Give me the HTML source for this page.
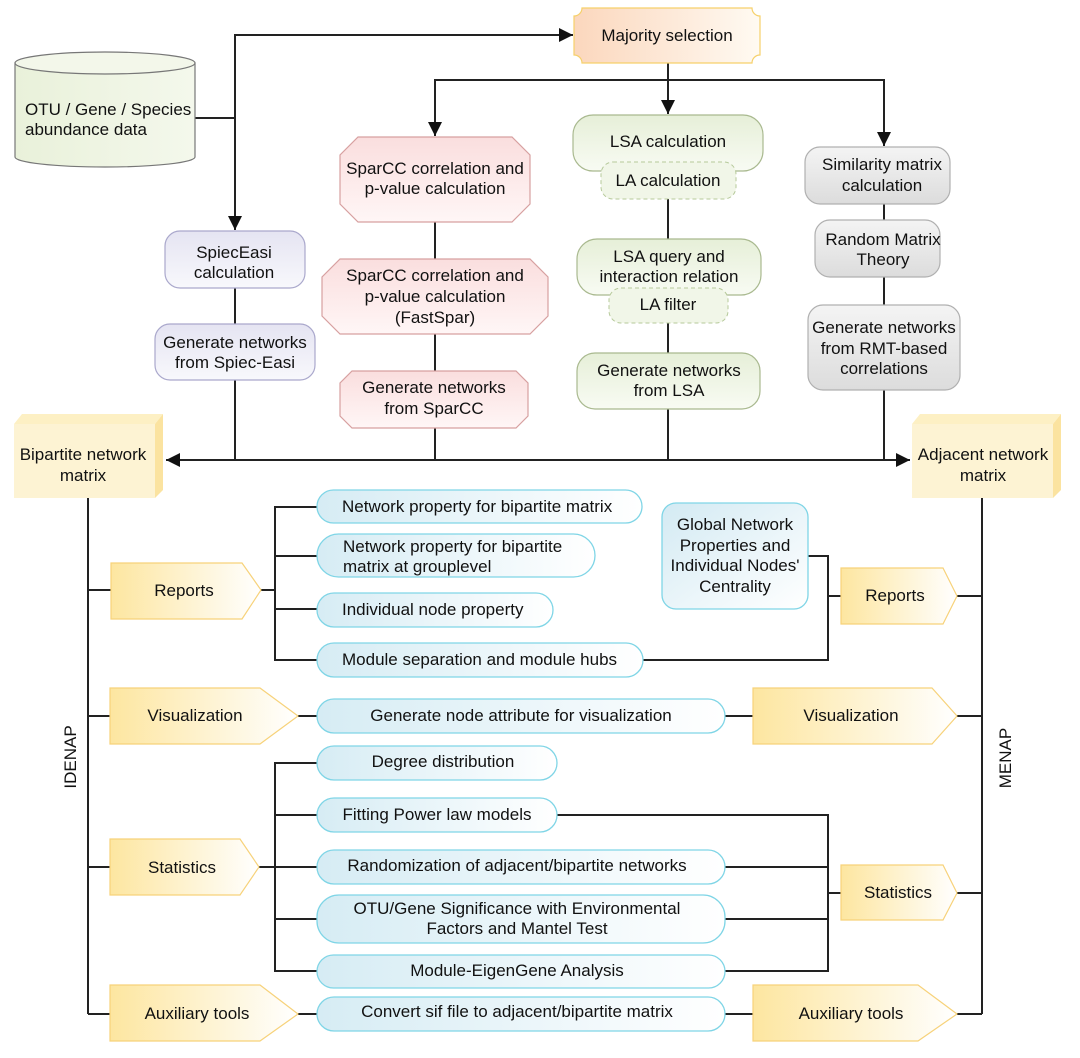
<!DOCTYPE html>
<html><head><meta charset="utf-8"><style>
html,body{margin:0;padding:0;background:#fff}
svg text{font-family:"Liberation Sans",Arial,sans-serif;font-size:17px;fill:#111}
</style></head><body>
<svg width="1080" height="1053" viewBox="0 0 1080 1053" xmlns="http://www.w3.org/2000/svg">
<defs>
<linearGradient id="yel" x1="0" x2="1" y1="0" y2="0"><stop offset="0" stop-color="#fde6a0"/><stop offset="1" stop-color="#fff"/></linearGradient>
<linearGradient id="blu" x1="0" x2="1" y1="0" y2="0"><stop offset="0" stop-color="#d6ecf4"/><stop offset="1" stop-color="#fff"/></linearGradient>
<linearGradient id="blu2" x1="0" x2="1" y1="0" y2="1"><stop offset="0" stop-color="#d3eaf3"/><stop offset="1" stop-color="#fff"/></linearGradient>
<linearGradient id="org" x1="0" x2="1" y1="0" y2="0"><stop offset="0" stop-color="#fbd7bd"/><stop offset="1" stop-color="#fffaf2"/></linearGradient>
<linearGradient id="red" x1="0" x2="0" y1="0" y2="1"><stop offset="0" stop-color="#fadede"/><stop offset="1" stop-color="#fff6f6"/></linearGradient>
<linearGradient id="lil" x1="0" x2="0" y1="0" y2="1"><stop offset="0" stop-color="#e5e4f2"/><stop offset="1" stop-color="#f8f8fc"/></linearGradient>
<linearGradient id="grn" x1="0" x2="0" y1="0" y2="1"><stop offset="0" stop-color="#e6efd8"/><stop offset="1" stop-color="#f8fbf3"/></linearGradient>
<linearGradient id="gry" x1="0" x2="0" y1="0" y2="1"><stop offset="0" stop-color="#f4f4f4"/><stop offset="1" stop-color="#dcdcdc"/></linearGradient>
<linearGradient id="cyl" x1="0" x2="1" y1="0" y2="0"><stop offset="0" stop-color="#e9f1da"/><stop offset="1" stop-color="#f4f8ec"/></linearGradient>
<marker id="ar" viewBox="0 0 10 10" refX="10" refY="5" markerWidth="14" markerHeight="14" markerUnits="userSpaceOnUse" orient="auto"><path d="M0,0 L10,5 L0,10 z" fill="#111"/></marker>
</defs>
<g stroke="#222" stroke-width="2" fill="none">
<polyline points="195,118 235,118"/>
<polyline points="235,118 235,35 573,35" marker-end="url(#ar)"/>
<polyline points="235,118 235,230" marker-end="url(#ar)"/>
<line x1="668" y1="63" x2="668" y2="80"/>
<polyline points="668,80 435,80 435,136" marker-end="url(#ar)"/>
<polyline points="668,80 884,80 884,146" marker-end="url(#ar)"/>
<line x1="668" y1="80" x2="668" y2="114" marker-end="url(#ar)"/>
<line x1="235" y1="288" x2="235" y2="460"/>
<line x1="435" y1="222" x2="435" y2="460"/>
<line x1="668" y1="199" x2="668" y2="460"/>
<line x1="884" y1="204" x2="884" y2="460"/>
<line x1="500" y1="460" x2="166" y2="460" marker-end="url(#ar)"/>
<line x1="500" y1="460" x2="910" y2="460" marker-end="url(#ar)"/>
<line x1="88" y1="498" x2="88" y2="1014"/>
<line x1="88" y1="590" x2="111" y2="590"/>
<line x1="88" y1="716" x2="110" y2="716"/>
<line x1="88" y1="867" x2="110" y2="867"/>
<line x1="88" y1="1014" x2="110" y2="1014"/>
<line x1="261" y1="590" x2="275" y2="590"/>
<polyline points="317,507 275,507 275,660 317,660"/>
<line x1="275" y1="556" x2="317" y2="556"/>
<line x1="275" y1="609" x2="317" y2="609"/>
<line x1="298" y1="716" x2="317" y2="716"/>
<line x1="259" y1="867" x2="317" y2="867"/>
<polyline points="317,763 275,763 275,971 317,971"/>
<line x1="275" y1="815" x2="317" y2="815"/>
<line x1="275" y1="919" x2="317" y2="919"/>
<line x1="298" y1="1014" x2="317" y2="1014"/>
<line x1="982" y1="498" x2="982" y2="1014"/>
<line x1="957" y1="596" x2="982" y2="596"/>
<line x1="957" y1="716" x2="982" y2="716"/>
<line x1="957" y1="893" x2="982" y2="893"/>
<line x1="957" y1="1014" x2="982" y2="1014"/>
<polyline points="808,556 828,556 828,660 643,660"/>
<line x1="828" y1="596" x2="841" y2="596"/>
<line x1="725" y1="716" x2="753" y2="716"/>
<polyline points="557,815 828,815 828,971 725,971"/>
<line x1="725" y1="867" x2="828" y2="867"/>
<line x1="725" y1="919" x2="828" y2="919"/>
<line x1="828" y1="893" x2="841" y2="893"/>
<line x1="725" y1="1014" x2="753" y2="1014"/>
</g>
<path d="M15,63 L15,157 A90,10 0 0 0 195,157 L195,63" fill="url(#cyl)" stroke="#777" stroke-width="1.2"/>
<ellipse cx="105" cy="63" rx="90" ry="11" fill="#f3f7ea" stroke="#777" stroke-width="1.2"/>
<text x="25" y="115">OTU / Gene / Species</text>
<text x="25" y="135">abundance data</text>
<path d="M582,8 L752,8 A8,8 0 0 0 760,16 L760,55 A8,8 0 0 0 752,63 L582,63 A8,8 0 0 0 574,55 L574,16 A8,8 0 0 0 582,8 z" fill="url(#org)" stroke="#f6d06a" stroke-width="1.2"/>
<text x="667" y="41" text-anchor="middle">Majority selection</text>
<polygon points="358,137 512,137 530,155 530,204 512,222 358,222 340,204 340,155" fill="url(#red)" stroke="#d7a0a0" stroke-width="1.2"/>
<text x="435" y="174" text-anchor="middle">SparCC correlation and</text>
<text x="435" y="194" text-anchor="middle">p-value calculation</text>
<polygon points="340,259 530,259 548,277 548,316 530,334 340,334 322,316 322,277" fill="url(#red)" stroke="#d7a0a0" stroke-width="1.2"/>
<text x="435" y="281" text-anchor="middle">SparCC correlation and</text>
<text x="435" y="302" text-anchor="middle">p-value calculation</text>
<text x="435" y="323" text-anchor="middle">(FastSpar)</text>
<polygon points="352,371 516,371 528,383 528,416 516,428 352,428 340,416 340,383" fill="url(#red)" stroke="#d7a0a0" stroke-width="1.2"/>
<text x="434" y="393" text-anchor="middle">Generate networks</text>
<text x="434" y="414" text-anchor="middle">from SparCC</text>
<rect x="165" y="231" width="140" height="57" rx="15" fill="url(#lil)" stroke="#aaa8cc" stroke-width="1.2"/>
<text x="234" y="258" text-anchor="middle">SpiecEasi</text>
<text x="234" y="278" text-anchor="middle">calculation</text>
<rect x="155" y="324" width="160" height="56" rx="15" fill="url(#lil)" stroke="#aaa8cc" stroke-width="1.2"/>
<text x="235" y="348" text-anchor="middle">Generate networks</text>
<text x="235" y="368" text-anchor="middle">from Spiec-Easi</text>
<rect x="573" y="115" width="190" height="56" rx="20" fill="url(#grn)" stroke="#a9b98f" stroke-width="1.2"/>
<text x="668" y="147" text-anchor="middle">LSA calculation</text>
<rect x="601" y="162" width="135" height="37" rx="12" fill="#f1f6e8" stroke="#b6c99a" stroke-width="1" stroke-dasharray="4,3"/>
<text x="668" y="186" text-anchor="middle">LA calculation</text>
<rect x="577" y="239" width="184" height="56" rx="20" fill="url(#grn)" stroke="#a9b98f" stroke-width="1.2"/>
<text x="669" y="262" text-anchor="middle">LSA query and</text>
<text x="669" y="282" text-anchor="middle">interaction relation</text>
<rect x="609" y="288" width="119" height="35" rx="12" fill="#f1f6e8" stroke="#b6c99a" stroke-width="1" stroke-dasharray="4,3"/>
<text x="668" y="310" text-anchor="middle">LA filter</text>
<rect x="577" y="353" width="183" height="56" rx="18" fill="url(#grn)" stroke="#a9b98f" stroke-width="1.2"/>
<text x="669" y="376" text-anchor="middle">Generate networks</text>
<text x="669" y="396" text-anchor="middle">from LSA</text>
<rect x="805" y="147" width="145" height="57" rx="15" fill="url(#gry)" stroke="#b0b0b0" stroke-width="1.2"/>
<text x="882" y="170" text-anchor="middle">Similarity matrix</text>
<text x="882" y="191" text-anchor="middle">calculation</text>
<rect x="815" y="220" width="125" height="57" rx="15" fill="url(#gry)" stroke="#b0b0b0" stroke-width="1.2"/>
<text x="883" y="245" text-anchor="middle">Random Matrix</text>
<text x="883" y="265" text-anchor="middle">Theory</text>
<rect x="808" y="305" width="152" height="85" rx="15" fill="url(#gry)" stroke="#b0b0b0" stroke-width="1.2"/>
<text x="884" y="333" text-anchor="middle">Generate networks</text>
<text x="884" y="354" text-anchor="middle">from RMT-based</text>
<text x="884" y="374" text-anchor="middle">correlations</text>
<polygon points="14,424 155,424 163,414 22,414" fill="#fdf0c4"/>
<polygon points="155,424 163,414 163,490 155,498" fill="#fbe3a0"/>
<rect x="14" y="424" width="141" height="74" fill="#fdf3d3"/>
<text x="83" y="460" text-anchor="middle">Bipartite network</text>
<text x="83" y="481" text-anchor="middle">matrix</text>
<polygon points="912,424 1053,424 1061,414 920,414" fill="#fdf0c4"/>
<polygon points="1053,424 1061,414 1061,490 1053,498" fill="#fbe3a0"/>
<rect x="912" y="424" width="141" height="74" fill="#fdf3d3"/>
<text x="983" y="460" text-anchor="middle">Adjacent network</text>
<text x="983" y="481" text-anchor="middle">matrix</text>
<g fill="url(#yel)" stroke="#f7d27a" stroke-width="1.2">
<polygon points="111,563 242,563 261,590 242,619 111,619"/>
<polygon points="110,688 260,688 298,716 260,744 110,744"/>
<polygon points="110,839 240,839 259,867 240,895 110,895"/>
<polygon points="110,985 260,985 298,1014 260,1041 110,1041"/>
<polygon points="841,568 943,568 957,596 943,624 841,624"/>
<polygon points="753,688 932,688 957,716 932,744 753,744"/>
<polygon points="841,865 943,865 957,893 943,920 841,920"/>
<polygon points="753,985 918,985 957,1014 918,1041 753,1041"/>
</g>
<text x="184" y="596" text-anchor="middle">Reports</text>
<text x="195" y="721" text-anchor="middle">Visualization</text>
<text x="182" y="873" text-anchor="middle">Statistics</text>
<text x="197" y="1019" text-anchor="middle">Auxiliary tools</text>
<text x="895" y="601" text-anchor="middle">Reports</text>
<text x="851" y="721" text-anchor="middle">Visualization</text>
<text x="898" y="898" text-anchor="middle">Statistics</text>
<text x="851" y="1019" text-anchor="middle">Auxiliary tools</text>
<g fill="url(#blu)" stroke="#7fd5e6" stroke-width="1.3">
<rect x="317" y="490" width="325" height="33" rx="16.5"/>
<rect x="317" y="534" width="278" height="43" rx="21.5"/>
<rect x="317" y="593" width="236" height="34" rx="17"/>
<rect x="317" y="643" width="326" height="34" rx="17"/>
<rect x="317" y="699" width="408" height="34" rx="17"/>
<rect x="317" y="746" width="240" height="34" rx="17"/>
<rect x="317" y="798" width="240" height="34" rx="17"/>
<rect x="317" y="850" width="408" height="34" rx="17"/>
<rect x="317" y="895" width="408" height="48" rx="22"/>
<rect x="317" y="955" width="408" height="33" rx="16.5"/>
<rect x="317" y="997" width="408" height="34" rx="17"/>
</g>
<rect x="662" y="503" width="146" height="106" rx="14" fill="url(#blu2)" stroke="#7fd5e6" stroke-width="1.3"/>
<text x="342" y="512">Network property for bipartite matrix</text>
<text x="343" y="552">Network property for bipartite</text>
<text x="343" y="572">matrix at grouplevel</text>
<text x="342" y="615">Individual node property</text>
<text x="342" y="665">Module separation and module hubs</text>
<text x="521" y="721" text-anchor="middle">Generate node attribute for visualization</text>
<text x="443" y="767" text-anchor="middle">Degree distribution</text>
<text x="437" y="820" text-anchor="middle">Fitting Power law models</text>
<text x="517" y="871" text-anchor="middle">Randomization of adjacent/bipartite networks</text>
<text x="517" y="914" text-anchor="middle">OTU/Gene Significance with Environmental</text>
<text x="517" y="934" text-anchor="middle">Factors and Mantel Test</text>
<text x="517" y="976" text-anchor="middle">Module-EigenGene Analysis</text>
<text x="517" y="1017" text-anchor="middle">Convert sif file to adjacent/bipartite matrix</text>
<text x="735" y="530" text-anchor="middle">Global Network</text>
<text x="735" y="551" text-anchor="middle">Properties and</text>
<text x="735" y="571" text-anchor="middle">Individual Nodes'</text>
<text x="735" y="592" text-anchor="middle">Centrality</text>
<text transform="translate(76,757) rotate(-90)" text-anchor="middle">IDENAP</text>
<text transform="translate(1011,758) rotate(-90)" text-anchor="middle">MENAP</text>
</svg>
</body></html>
